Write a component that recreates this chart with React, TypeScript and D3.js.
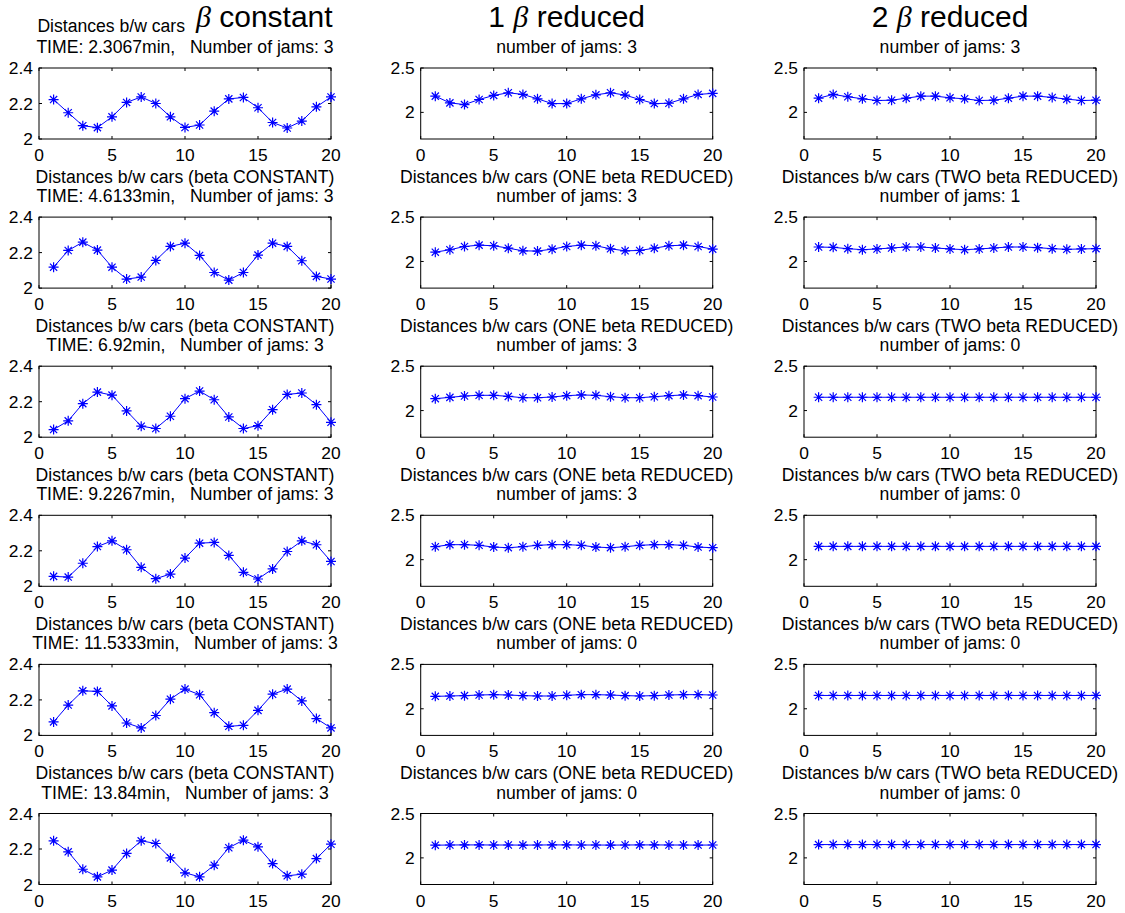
import React from 'react';
import * as d3 from 'd3';

// car index along the road (x of every panel)
const carIndex = [1, 2, 3, 4, 5, 6, 7, 8, 9, 10, 11, 12, 13, 14, 15, 16, 17, 18, 19, 20];

const timeLabels = ['2.3067', '4.6133', '6.92', '9.2267', '11.5333', '13.84'];
const jamsConstant = [3, 3, 3, 3, 3, 3];
const jamsOneReduced = [3, 3, 3, 3, 0, 0];
const jamsTwoReduced = [3, 1, 0, 0, 0, 0];

// distances b/w cars, one row per time snapshot
const betaConstant = [
  [2.222, 2.148, 2.075, 2.064, 2.125, 2.206, 2.237, 2.2, 2.125, 2.065, 2.079, 2.157, 2.226, 2.234, 2.176, 2.093, 2.062, 2.101, 2.181, 2.237],
  [2.118, 2.212, 2.259, 2.214, 2.118, 2.051, 2.062, 2.156, 2.235, 2.253, 2.184, 2.088, 2.045, 2.088, 2.186, 2.253, 2.235, 2.154, 2.066, 2.051],
  [2.043, 2.092, 2.189, 2.254, 2.237, 2.148, 2.062, 2.049, 2.118, 2.217, 2.26, 2.211, 2.114, 2.049, 2.065, 2.155, 2.241, 2.249, 2.183, 2.084],
  [2.056, 2.052, 2.13, 2.224, 2.256, 2.206, 2.107, 2.043, 2.069, 2.159, 2.243, 2.247, 2.174, 2.079, 2.041, 2.098, 2.196, 2.256, 2.234, 2.14],
  [2.076, 2.171, 2.251, 2.248, 2.166, 2.07, 2.042, 2.112, 2.204, 2.261, 2.229, 2.128, 2.051, 2.057, 2.141, 2.232, 2.261, 2.194, 2.095, 2.042],
  [2.246, 2.184, 2.086, 2.043, 2.081, 2.175, 2.246, 2.231, 2.15, 2.066, 2.043, 2.109, 2.207, 2.25, 2.212, 2.118, 2.049, 2.058, 2.146, 2.227],
];

const oneBetaReduced = [
  [2.183, 2.107, 2.088, 2.145, 2.191, 2.221, 2.202, 2.153, 2.099, 2.099, 2.153, 2.198, 2.221, 2.195, 2.145, 2.099, 2.103, 2.153, 2.202, 2.214],
  [2.105, 2.132, 2.169, 2.184, 2.177, 2.15, 2.12, 2.117, 2.139, 2.169, 2.184, 2.177, 2.143, 2.12, 2.124, 2.15, 2.177, 2.184, 2.169, 2.139],
  [2.134, 2.149, 2.164, 2.172, 2.172, 2.16, 2.145, 2.145, 2.153, 2.168, 2.176, 2.172, 2.156, 2.145, 2.145, 2.156, 2.168, 2.176, 2.168, 2.153],
  [2.146, 2.169, 2.169, 2.162, 2.142, 2.135, 2.146, 2.162, 2.169, 2.169, 2.162, 2.142, 2.135, 2.146, 2.162, 2.169, 2.169, 2.162, 2.142, 2.135],
  [2.14, 2.144, 2.148, 2.155, 2.159, 2.155, 2.148, 2.144, 2.144, 2.152, 2.159, 2.159, 2.155, 2.148, 2.144, 2.148, 2.155, 2.159, 2.159, 2.155],
  [2.143, 2.145, 2.146, 2.146, 2.145, 2.145, 2.144, 2.145, 2.146, 2.146, 2.145, 2.145, 2.144, 2.145, 2.146, 2.146, 2.145, 2.145, 2.144, 2.145],
];

const twoBetaReduced = [
  [2.16, 2.202, 2.176, 2.153, 2.134, 2.137, 2.16, 2.183, 2.183, 2.164, 2.153, 2.134, 2.137, 2.16, 2.183, 2.183, 2.168, 2.149, 2.134, 2.137],
  [2.163, 2.159, 2.144, 2.133, 2.141, 2.152, 2.163, 2.163, 2.152, 2.141, 2.133, 2.141, 2.152, 2.163, 2.163, 2.156, 2.144, 2.137, 2.141, 2.144],
  [2.15, 2.15, 2.15, 2.15, 2.15, 2.15, 2.15, 2.15, 2.15, 2.15, 2.15, 2.15, 2.15, 2.15, 2.15, 2.15, 2.15, 2.15, 2.15, 2.15],
  [2.15, 2.15, 2.15, 2.15, 2.15, 2.15, 2.15, 2.15, 2.15, 2.15, 2.15, 2.15, 2.15, 2.15, 2.15, 2.15, 2.15, 2.15, 2.15, 2.15],
  [2.15, 2.15, 2.15, 2.15, 2.15, 2.15, 2.15, 2.15, 2.15, 2.15, 2.15, 2.15, 2.15, 2.15, 2.15, 2.15, 2.15, 2.15, 2.15, 2.15],
  [2.15, 2.15, 2.15, 2.15, 2.15, 2.15, 2.15, 2.15, 2.15, 2.15, 2.15, 2.15, 2.15, 2.15, 2.15, 2.15, 2.15, 2.15, 2.15, 2.15],
];

const xTicks = [0, 5, 10, 15, 20];
const yTicksConstant = [2, 2.2, 2.4];
const yTicksReduced = [2, 2.5];

const W = 1125;
const H = 913;
const colLeft = [39, 420.7, 804];
const panelW = 292;
const panelH = 71;
const rowTop0 = 68;
const rowStep = 149.1;
const font = '"Liberation Sans", Arial, Helvetica, sans-serif';
const titleSize = 17.6;
const tickSize = 17.4;
const bigSize = 30;
const blue = '#0000ff';

type PanelProps = {
  left: number;
  top: number;
  values: number[];
  yDomain: [number, number];
  yTicks: number[];
  line1: React.ReactNode;
  line2: string;
};

function Panel({ left, top, values, yDomain, yTicks, line1, line2 }: PanelProps) {
  const x = d3.scaleLinear().domain([0, 20]).range([left, left + panelW]);
  const y = d3.scaleLinear().domain(yDomain).range([top + panelH, top]);
  const cx = left + panelW / 2;
  const pts = carIndex.map((c, i) => [x(c), y(values[i])] as [number, number]);
  const path = d3.line()(pts) || '';
  const r = 5;
  const d = r * 0.72;
  const stars = pts
    .map(([px, py]) =>
      `M${px - r},${py}h${2 * r}M${px},${py - r}v${2 * r}` +
      `M${px - d},${py - d}l${2 * d},${2 * d}M${px - d},${py + d}l${2 * d},${-2 * d}`)
    .join('');
  const tk = 3;
  const bottom = top + panelH;
  const right = left + panelW;

  return (
    <g>
      {line1}
      <text x={cx} y={top - 15} textAnchor="middle" fontSize={titleSize}>{line2}</text>
      <rect x={left} y={top} width={panelW} height={panelH} fill="#fff" stroke="#000" strokeWidth={1} />
      {xTicks.map((t) => (
        <g key={'x' + t}>
          <line x1={x(t)} x2={x(t)} y1={bottom} y2={bottom - tk} stroke="#000" />
          <line x1={x(t)} x2={x(t)} y1={top} y2={top + tk} stroke="#000" />
          <text x={x(t)} y={bottom + 22} textAnchor="middle" fontSize={tickSize}>{t}</text>
        </g>
      ))}
      {yTicks.map((t) => (
        <g key={'y' + t}>
          <line x1={left} x2={left + tk} y1={y(t)} y2={y(t)} stroke="#000" />
          <line x1={right} x2={right - tk} y1={y(t)} y2={y(t)} stroke="#000" />
          <text x={left - 6} y={y(t)} dy="0.35em" textAnchor="end" fontSize={tickSize}>{d3.format('~g')(t)}</text>
        </g>
      ))}
      <path d={path} fill="none" stroke={blue} strokeWidth={1} />
      <path d={stars} fill="none" stroke={blue} strokeWidth={1.2} />
    </g>
  );
}

export default function App() {
  const columns = [
    { data: betaConstant, yDomain: [2, 2.4] as [number, number], yTicks: yTicksConstant },
    { data: oneBetaReduced, yDomain: [1.7, 2.5] as [number, number], yTicks: yTicksReduced },
    { data: twoBetaReduced, yDomain: [1.7, 2.5] as [number, number], yTicks: yTicksReduced },
  ];
  const headers = ['', '1', '2'];
  const names = ['(beta CONSTANT)', '(ONE beta REDUCED)', '(TWO beta REDUCED)'];

  return (
    <svg width={W} height={H} style={{ position: 'absolute', left: 0, top: 0, background: '#fff' }} fontFamily={font}>
      <rect width={W} height={H} fill="#fff" />
      {columns.map((col, ci) =>
        col.data.map((vals, ri) => {
          const left = colLeft[ci];
          const top = rowTop0 + ri * rowStep;
          const cx = left + panelW / 2;
          let line1: React.ReactNode;
          if (ri === 0 && ci === 0) {
            line1 = (
              <text x={cx} y={top - 35.7} textAnchor="middle" fontSize={titleSize}>
                Distances b/w cars{'  '}
                <tspan dx={6} dy={-5.6} fontSize={bigSize} fontStyle="italic" fontFamily='"Liberation Serif", serif'>β</tspan>
                <tspan fontSize={bigSize}>{' '}constant</tspan>
              </text>
            );
          } else if (ri === 0) {
            line1 = (
              <text x={cx} y={top - 41.3} textAnchor="middle" fontSize={bigSize}>
                {headers[ci]}{' '}
                <tspan fontStyle="italic" fontFamily='"Liberation Serif", serif'>β</tspan>
                {' '}reduced
              </text>
            );
          } else {
            line1 = (
              <text x={cx} y={top - 34.5} textAnchor="middle" fontSize={titleSize}>
                Distances b/w cars {names[ci]}
              </text>
            );
          }
          const line2 = ci === 0
            ? `TIME: ${timeLabels[ri]}min,\u00a0\u00a0 Number of jams: ${jamsConstant[ri]}`
            : `number of jams: ${(ci === 1 ? jamsOneReduced : jamsTwoReduced)[ri]}`;
          return (
            <Panel key={`${ci}-${ri}`} left={left} top={top} values={vals}
              yDomain={col.yDomain} yTicks={col.yTicks} line1={line1} line2={line2} />
          );
        })
      )}
    </svg>
  );
}
